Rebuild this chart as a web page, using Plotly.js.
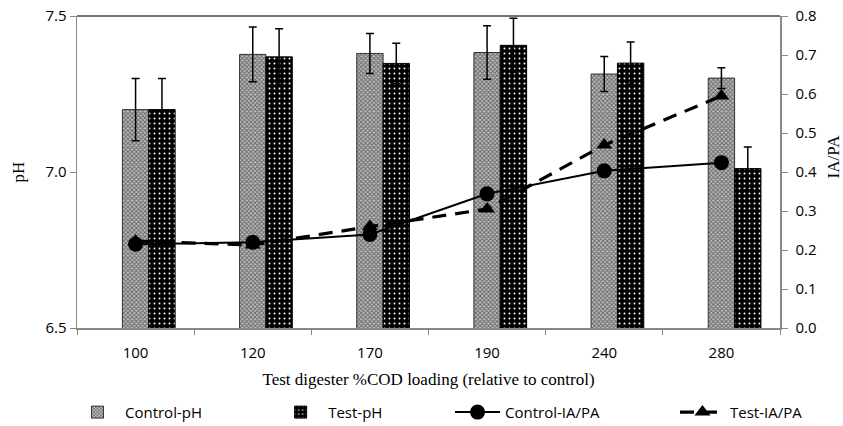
<!DOCTYPE html>
<html>
<head>
<meta charset="utf-8">
<script src="https://cdn.plot.ly/plotly-3.0.1.min.js"></script>
<style>html,body{margin:0;padding:0;background:#fff;}#chart{width:843px;height:426px;}</style>
</head>
<body>
<div id="chart"></div>
<script>
var categories = ['100', '120', '170', '190', '240', '280'];
var controlPH = [7.20, 7.377, 7.380, 7.383, 7.314, 7.301];
var controlPHErr = [0.10, 0.088, 0.064, 0.086, 0.056, 0.033];
var testPH = [7.20, 7.369, 7.348, 7.406, 7.349, 7.011];
var testPHErr = [0.10, 0.090, 0.065, 0.087, 0.068, 0.069];
var controlIAPA = [0.215, 0.220, 0.240, 0.344, 0.403, 0.424];
var testIAPA = [0.223, 0.213, 0.260, 0.305, 0.469, 0.595];

var sans = 'Open Sans, Liberation Sans, sans-serif';
var serif = 'Liberation Serif, Times New Roman, serif';

var traces = [
  {
    type: 'bar', name: 'Control-pH', x: categories, y: controlPH, legend: 'legend',
    width: 0.225, offset: -0.1125,
    marker: {color: '#999', line: {color: '#333', width: 1},
      pattern: {shape: 'x', bgcolor: '#bdbdbd', fgcolor: '#666', size: 3, solidity: 0.5, fillmode: 'replace'}},
    error_y: {type: 'data', array: controlPHErr, visible: true, color: '#000', thickness: 1.5, width: 4}
  },
  {
    type: 'bar', name: 'Test-pH', x: categories, y: testPH, legend: 'legend2',
    width: 0.225, offset: 0.1125,
    marker: {color: '#000', line: {color: '#000', width: 1},
      pattern: {shape: '.', bgcolor: '#000', fgcolor: '#fff', size: 5, solidity: 0.12, fillmode: 'replace'}},
    error_y: {type: 'data', array: testPHErr, visible: true, color: '#000', thickness: 1.5, width: 4}
  },
  {
    type: 'scatter', mode: 'lines+markers', name: 'Control-IA/PA', x: categories, y: controlIAPA, legend: 'legend3',
    yaxis: 'y2', line: {color: '#000', width: 2},
    marker: {symbol: 'circle', size: 15, color: '#000'}
  },
  {
    type: 'scatter', mode: 'lines+markers', name: 'Test-IA/PA', x: categories, y: testIAPA, legend: 'legend4',
    yaxis: 'y2', line: {color: '#000', width: 3.2, dash: '14px,9px'},
    marker: {symbol: 'triangle-up', size: 14, color: '#000'}
  }
];

function leg(x) {
  return {orientation: 'h', x: x, xanchor: 'left', yref: 'container', y: 0.032, yanchor: 'middle',
    font: {family: sans, size: 15, color: '#000'}, itemwidth: 45, bgcolor: 'rgba(0,0,0,0)'};
}

var layout = {
  width: 843, height: 426,
  margin: {l: 77, r: 63, t: 16, b: 98},
  paper_bgcolor: '#fff', plot_bgcolor: '#fff',
  barmode: 'overlay',
  showlegend: true,
  legend: leg(-0.01),
  legend2: leg(0.279),
  legend3: leg(0.5306),
  legend4: leg(0.8506),
  xaxis: {
    type: 'category', range: [-0.5, 5.5],
    showline: true, linecolor: '#888', linewidth: 1.5,
    ticks: 'outside', tickson: 'boundaries', ticklen: 5, tickcolor: '#888',
    ticklabelstandoff: 10,
    showgrid: false, zeroline: false,
    tickfont: {family: sans, size: 15, color: '#000'},
    title: {text: 'Test digester %COD loading (relative to control)', font: {family: serif, size: 17, color: '#000'}, standoff: 12}
  },
  yaxis: {
    range: [6.5, 7.5], dtick: 0.5, tickformat: '.1f',
    showline: true, linecolor: '#888', linewidth: 1.5,
    ticks: 'outside', ticklen: 6, tickcolor: '#888',
    showgrid: false, zeroline: false,
    tickfont: {family: sans, size: 15, color: '#000'},
    title: {text: 'pH', font: {family: serif, size: 17, color: '#000'}, standoff: 16}
  },
  yaxis2: {
    overlaying: 'y', side: 'right', range: [0, 0.8], dtick: 0.1, tickformat: '.1f',
    showline: true, linecolor: '#888', linewidth: 1.5,
    ticks: 'outside', ticklen: 6, tickcolor: '#888',
    ticklabelstandoff: 5,
    showgrid: false, zeroline: false,
    tickfont: {family: sans, size: 15, color: '#000'}
  },
  shapes: [
    {type: 'line', xref: 'paper', yref: 'paper', x0: 0, x1: 1, y0: 1, y1: 1, line: {color: '#444', width: 1.5}}
  ],
  annotations: [
    {text: 'IA/PA', xref: 'paper', yref: 'paper', x: 1, xshift: 53, y: 0.55, textangle: -90,
      showarrow: false, font: {family: serif, size: 17, color: '#000'}, xanchor: 'center', yanchor: 'middle'}
  ]
};

Plotly.newPlot('chart', traces, layout, {displayModeBar: false, staticPlot: true});
</script>
</body>
</html>
